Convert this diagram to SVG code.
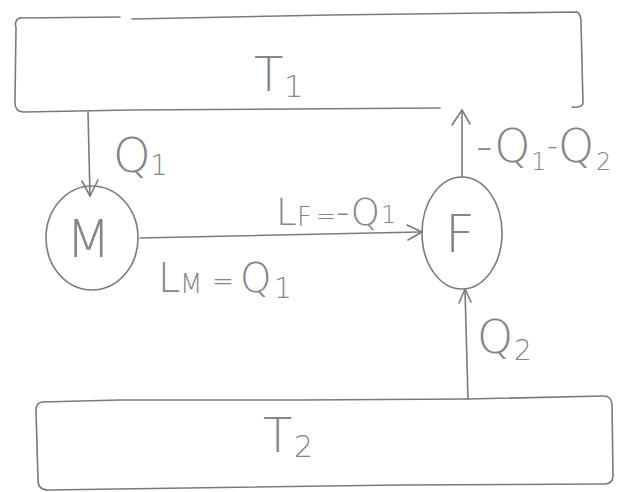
<svg xmlns="http://www.w3.org/2000/svg" width="622" height="492" viewBox="0 0 622 492">
<style>
.ln{fill:none;stroke:#7a7a7a;stroke-width:1.6;stroke-linecap:round;stroke-linejoin:round}
.t{font-family:"DejaVu Sans","Liberation Sans",sans-serif;fill:#858585;font-weight:300}
</style>
<rect width="622" height="492" fill="#ffffff"/>
<g id="T1">
<path class="ln" d="M20,18 Q14,20 16,28 L15,100 Q14,112 24,112 L130,110 L440,108"/>
<path class="ln" d="M20,18 L120,17 M132,19 L330,15 L577,12 Q581,14 581,22 L583,104 Q580,108 572,107"/>
<text class="t" x="254" y="91" font-size="48">T<tspan font-size="30" x="284" y="97">1</tspan></text>
</g>
<g id="M">
<ellipse class="ln" cx="92" cy="238" rx="46" ry="52"/>
<text class="t" x="66" y="257" font-size="52">M</text>
</g>
<g id="F">
<ellipse class="ln" cx="462" cy="233" rx="40" ry="56"/>
<text class="t" x="445" y="252" font-size="52">F</text>
</g>
<g id="T2">
<path class="ln" d="M42,402 Q36,403 36,410 L38,480 Q38,490 48,490 L400,485 L604,484 Q613,484 613,476 L612,404 Q611,396 604,396 L468,399 L300,400 L120,400 Z"/>
<text class="t" x="263" y="452" font-size="48">T<tspan font-size="30" x="294" y="457">2</tspan></text>
</g>
<g id="connectors">
<path class="ln" d="M88,112 L90,196"/>
<path class="ln" d="M82,181 L90,196 L98,180"/>
<path class="ln" d="M140,238 L420,232"/>
<path class="ln" d="M407,225 L422,232 L408,240"/>
<path class="ln" d="M462,177 L462,110"/>
<path class="ln" d="M452,125 L462,110 L470,124"/>
<path class="ln" d="M468,399 L465,290"/>
<path class="ln" d="M459,303 L465,289 L471,302"/>
</g>
<g id="labels">
<text class="t" x="276" y="225" font-size="37">L<tspan font-size="26" x="297" y="226">F</tspan><tspan font-size="24" x="316" y="224">=</tspan><tspan x="336" y="225">-Q</tspan><tspan font-size="24" x="381" y="223">1</tspan></text>
<text class="t" x="113" y="172" font-size="48">Q<tspan font-size="28" x="150" y="175">1</tspan></text>
<text class="t" x="158" y="292" font-size="40">L<tspan font-size="26" x="180" y="293">M</tspan><tspan font-size="26" x="212" y="290">=</tspan><tspan x="240" y="292">Q</tspan><tspan font-size="28" x="274" y="298">1</tspan></text>
<text class="t" x="476" y="162" font-size="46">-Q<tspan font-size="24" x="531" y="170">1</tspan><tspan font-size="30" x="547" y="156">-</tspan><tspan x="558" y="162">Q</tspan><tspan font-size="24" x="596" y="170">2</tspan></text>
<text class="t" x="477" y="353" font-size="46">Q<tspan font-size="28" x="514" y="360">2</tspan></text>
</g>
</svg>
